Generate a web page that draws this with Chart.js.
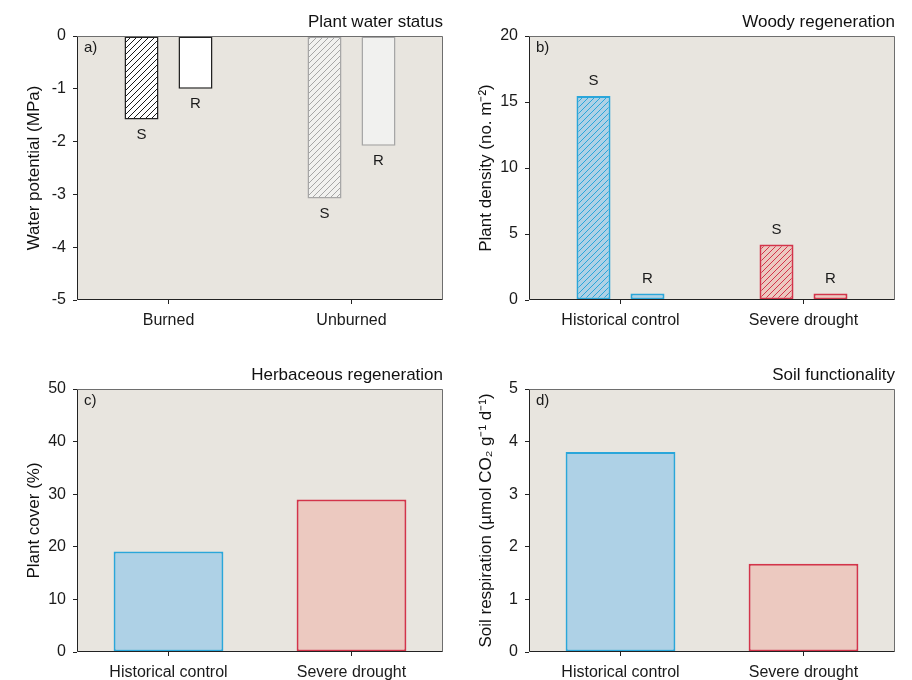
<!DOCTYPE html>
<html>
<head>
<meta charset="utf-8">
<script src="https://cdn.jsdelivr.net/npm/chart.js@4.4.1/dist/chart.umd.min.js"></script>
<style>
  html, body { margin: 0; padding: 0; background: #ffffff; }
  #wrap { position: relative; width: 912px; height: 680px; overflow: hidden; background: #fff; }
  canvas { position: absolute; }
</style>
</head>
<body>
<div id="wrap">
  <canvas id="ca" width="456" height="340" style="left:0px;top:0px"></canvas>
  <canvas id="cb" width="460" height="340" style="left:452px;top:0px"></canvas>
  <canvas id="cc" width="456" height="340" style="left:0px;top:340px"></canvas>
  <canvas id="cd" width="460" height="340" style="left:452px;top:340px"></canvas>
</div>
<script>
// ---------------- data ----------------
const waterCategories = ['Burned', 'Unburned'];
const waterS = [-1.58, -3.08];
const waterR = [-1.0, -2.08];
const waterTicks = { min: -5, max: 0, step: 1 };

const regenCategories = ['Historical control', 'Severe drought'];
const woodyS = [15.45, 4.2];
const woodyR = [0.5, 0.5];
const woodyTicks = { min: 0, max: 20, step: 5 };

const herbCover = [19.1, 29.0];
const herbTicks = { min: 0, max: 50, step: 10 };

const soilResp = [3.8, 1.68];
const soilTicks = { min: 0, max: 5, step: 1 };

const seriesNames = ['S', 'R'];

// ---------------- styles ----------------
const FONT = "'Liberation Sans', Arial, Helvetica, sans-serif";
Chart.defaults.font.family = FONT;
Chart.defaults.color = '#1a1a1a';

const PLOT_BG = '#e8e5df';
const BLUE_FILL = '#aed1e6', BLUE_LINE = '#2aa6da';
const RED_FILL = '#ecc9c0', RED_LINE = '#d3344a';
const GRAY_FILL = '#f1f1ef', GRAY_LINE = '#a6a6a6';

function hatch(bg, line) {
  const c = document.createElement('canvas');
  c.width = 6; c.height = 6;
  const x = c.getContext('2d');
  if (bg) { x.fillStyle = bg; x.fillRect(0, 0, 6, 6); }
  x.strokeStyle = line; x.lineWidth = 1;
  x.beginPath();
  x.moveTo(-1, 7); x.lineTo(7, -1);
  x.moveTo(-1, 1); x.lineTo(1, -1);
  x.moveTo(5, 7); x.lineTo(7, 5);
  x.stroke();
  return x.createPattern(c, 'repeat');
}

const framePlugin = {
  id: 'frame',
  beforeDraw(chart) {
    const a = chart.chartArea, ctx = chart.ctx;
    ctx.save();
    ctx.fillStyle = PLOT_BG;
    ctx.fillRect(a.left, a.top, a.right - a.left, a.bottom - a.top);
    ctx.restore();
  },
  afterDatasetsDraw(chart) {
    const a = chart.chartArea, ctx = chart.ctx;
    const o = chart.options.plugins.frame || {};
    const L = Math.round(a.left) + 0.5, R = Math.round(a.right) - 0.5;
    const T = Math.round(a.top) + 0.5, B = Math.round(a.bottom) - 0.5;
    ctx.save();
    ctx.lineWidth = 1;
    ctx.strokeStyle = '#6e6e6e';
    ctx.beginPath();
    ctx.moveTo(L, T); ctx.lineTo(R, T); ctx.lineTo(R, B);
    ctx.stroke();
    ctx.strokeStyle = '#222222';
    ctx.beginPath();
    ctx.moveTo(L, T); ctx.lineTo(L, B); ctx.lineTo(R, B);
    ctx.stroke();
    // panel tag
    ctx.fillStyle = '#1a1a1a';
    ctx.font = '15px ' + FONT;
    ctx.textAlign = 'left';
    ctx.textBaseline = 'middle';
    ctx.fillText(o.tag, a.left + 7, a.top + 12);
    // bar labels
    if (o.barLabels) {
      chart.data.datasets.forEach((ds, di) => {
        const meta = chart.getDatasetMeta(di);
        meta.data.forEach((el, i) => {
          const v = ds.data[i];
          const y = v < 0 ? el.y + 15 : el.y - 15;
          ctx.textAlign = 'center';
          ctx.fillText(ds.label, el.x, y);
        });
      });
    }
    ctx.restore();
  }
};

function makePanel(id, p) {
  return new Chart(document.getElementById(id), {
    type: 'bar',
    data: { labels: p.cats, datasets: p.datasets },
    plugins: [framePlugin],
    options: {
      responsive: false,
      devicePixelRatio: 1,
      animation: false,
      events: [],
      layout: { padding: { left: 0, right: p.padRight, top: 0, bottom: 0 } },
      categoryPercentage: p.catPct,
      barPercentage: p.barPct,
      plugins: {
        legend: { display: false },
        tooltip: { enabled: false },
        title: {
          display: true, text: p.title, align: 'end',
          color: '#111111',
          font: { size: 17, weight: 'normal', family: FONT },
          padding: { top: p.titleTop, bottom: 3 }
        },
        frame: { tag: p.tag, barLabels: p.barLabels }
      },
      scales: {
        x: {
          type: 'category',
          offset: true,
          afterFit(s) { s.height = p.xHeight; },
          grid: { display: true, drawOnChartArea: false, drawTicks: true, tickLength: 4, offset: false, color: '#222222', lineWidth: 1 },
          border: { display: false },
          ticks: { font: { size: 16, family: FONT }, color: '#1a1a1a', padding: 7, maxRotation: 0, autoSkip: false }
        },
        y: {
          min: p.ticks.min, max: p.ticks.max,
          afterFit(s) { s.width = 77; },
          grid: { display: true, drawOnChartArea: false, drawTicks: true, tickLength: 4, color: '#222222', lineWidth: 1 },
          border: { display: false },
          ticks: { stepSize: p.ticks.step, font: { size: 16, family: FONT }, color: '#1a1a1a', padding: 7 },
          title: {
            display: true, text: p.yTitle, color: '#111111',
            font: { size: 17, family: FONT },
            padding: { top: 24.6, bottom: 0 }
          }
        }
      }
    }
  });
}

// a) Plant water status
makePanel('ca', {
  cats: waterCategories,
  datasets: [
    { label: seriesNames[0], data: waterS,
      backgroundColor: [hatch('#ffffff', '#1a1a1a'), hatch(GRAY_FILL, GRAY_LINE)],
      borderColor: ['#222222', GRAY_LINE], borderWidth: 1.5, borderSkipped: false },
    { label: seriesNames[1], data: waterR,
      backgroundColor: ['#ffffff', GRAY_FILL],
      borderColor: ['#222222', GRAY_LINE], borderWidth: 1.5, borderSkipped: false }
  ],
  ticks: waterTicks, yTitle: 'Water potential (MPa)', title: 'Plant water status', tag: 'a)',
  padRight: 13, titleTop: 12.6, xHeight: 40, catPct: 0.59, barPct: 0.63, barLabels: true
});

// b) Woody regeneration
makePanel('cb', {
  cats: regenCategories,
  datasets: [
    { label: seriesNames[0], data: woodyS,
      backgroundColor: [hatch(BLUE_FILL, BLUE_LINE), hatch(RED_FILL, RED_LINE)],
      borderColor: [BLUE_LINE, RED_LINE], borderWidth: 2, borderSkipped: false },
    { label: seriesNames[1], data: woodyR,
      backgroundColor: [BLUE_FILL, RED_FILL],
      borderColor: [BLUE_LINE, RED_LINE], borderWidth: 2, borderSkipped: false }
  ],
  ticks: woodyTicks, yTitle: 'Plant density (no. m\u207B\u00B2)', title: 'Woody regeneration', tag: 'b)',
  padRight: 17, titleTop: 12.6, xHeight: 40, catPct: 0.59, barPct: 0.63, barLabels: true
});

// c) Herbaceous regeneration
makePanel('cc', {
  cats: regenCategories,
  datasets: [
    { label: 'Plant cover', data: herbCover,
      backgroundColor: [BLUE_FILL, RED_FILL],
      borderColor: [BLUE_LINE, RED_LINE], borderWidth: 2, borderSkipped: false }
  ],
  ticks: herbTicks, yTitle: 'Plant cover (%)', title: 'Herbaceous regeneration', tag: 'c)',
  padRight: 13, titleTop: 25.6, xHeight: 28, catPct: 1.0, barPct: 0.6, barLabels: false
});

// d) Soil functionality
makePanel('cd', {
  cats: regenCategories,
  datasets: [
    { label: 'Soil respiration', data: soilResp,
      backgroundColor: [BLUE_FILL, RED_FILL],
      borderColor: [BLUE_LINE, RED_LINE], borderWidth: 2, borderSkipped: false }
  ],
  ticks: soilTicks, yTitle: 'Soil respiration (\u00B5mol CO\u2082 g\u207B\u00B9 d\u207B\u00B9)', title: 'Soil functionality', tag: 'd)',
  padRight: 17, titleTop: 25.6, xHeight: 28, catPct: 1.0, barPct: 0.6, barLabels: false
});
</script>
</body>
</html>
